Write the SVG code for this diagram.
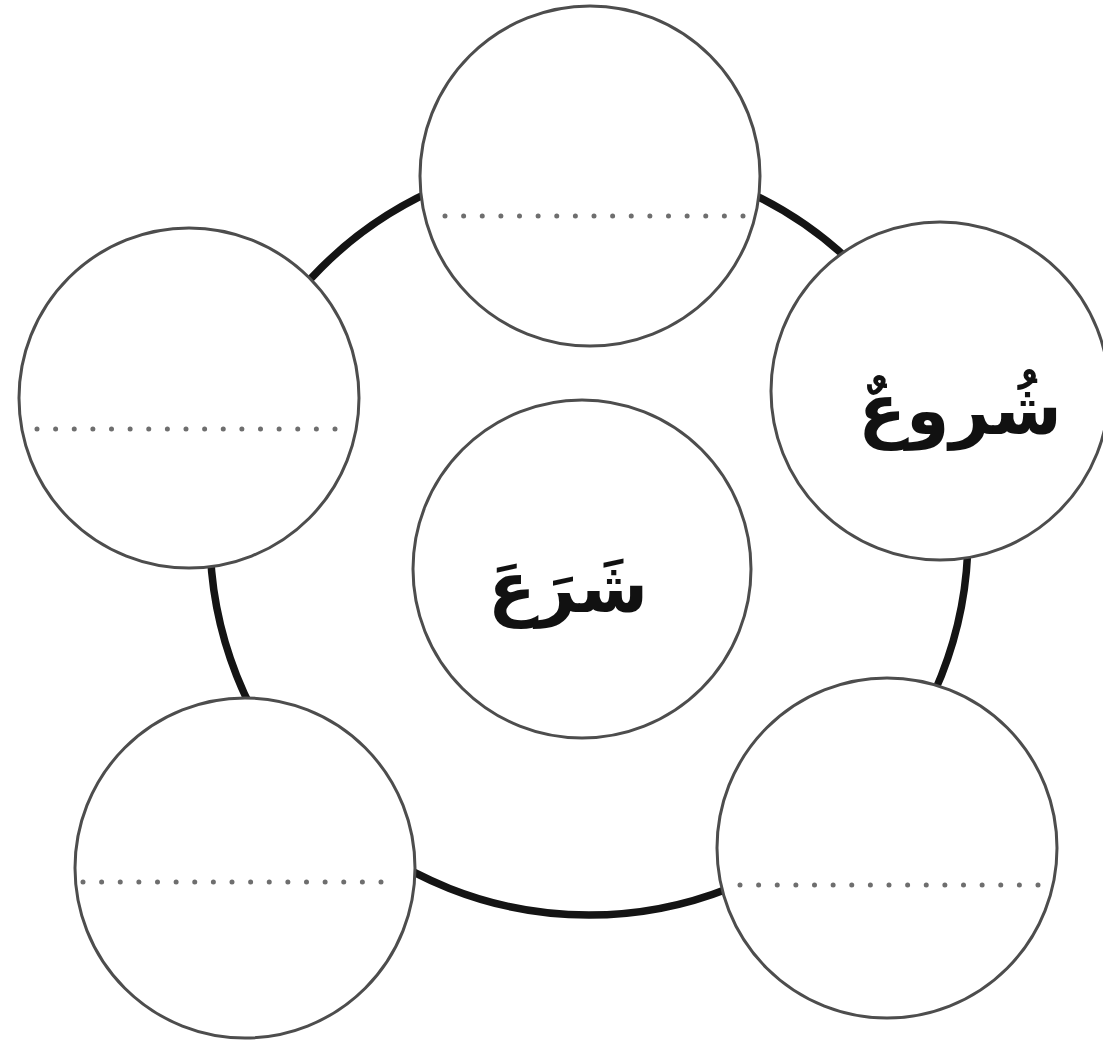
<svg xmlns="http://www.w3.org/2000/svg" width="1103" height="1045" viewBox="0 0 1103 1045">
  <style>
    .node { fill: #ffffff; stroke: #4d4d4d; stroke-width: 3; }
    .ring { fill: none; stroke: #141414; stroke-width: 7.5; }
    .dots { stroke: #6e6e6e; stroke-width: 5; stroke-linecap: round; stroke-dasharray: 0 18.625; fill: none; }
    .word { font-family: "DejaVu Sans", sans-serif; font-size: 70px; font-weight: bold; fill: #111111; text-anchor: middle; }
  </style>
  <rect width="1103" height="1045" fill="#ffffff"/>
  <g id="connectors">
    <circle class="ring" cx="589" cy="536" r="379"/>
  </g>
  <g id="node-center">
    <circle class="node" cx="582" cy="569" r="169"/>
    <text class="word" x="568" y="612" direction="rtl">شَرَعَ</text>
  </g>
  <g id="node-top">
    <circle class="node" cx="590" cy="176" r="170"/>
    <line class="dots" x1="445" y1="216" x2="744" y2="216"/>
  </g>
  <g id="node-right">
    <circle class="node" cx="940" cy="391" r="169"/>
    <text class="word" x="960" y="434" direction="rtl">شُروعٌ</text>
  </g>
  <g id="node-left">
    <circle class="node" cx="189" cy="398" r="170"/>
    <line class="dots" x1="37" y1="429" x2="336" y2="429"/>
  </g>
  <g id="node-bottom-left">
    <circle class="node" cx="245" cy="868" r="170"/>
    <line class="dots" x1="83" y1="882" x2="382" y2="882"/>
  </g>
  <g id="node-bottom-right">
    <circle class="node" cx="887" cy="848" r="170"/>
    <line class="dots" x1="740" y1="885" x2="1039" y2="885"/>
  </g>
</svg>
